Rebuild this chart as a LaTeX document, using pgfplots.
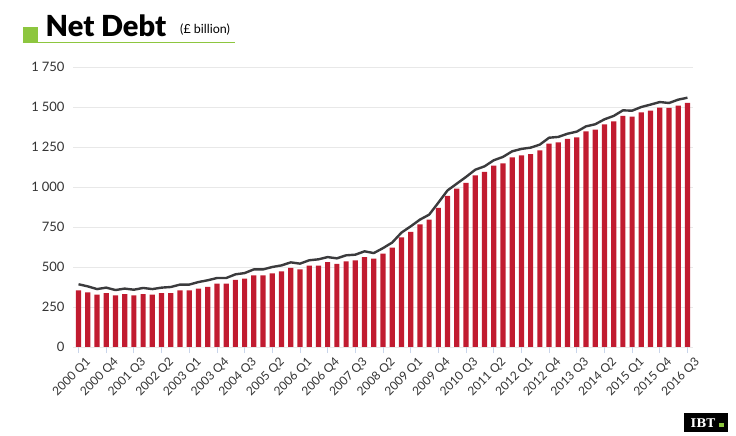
\documentclass[border=0pt]{standalone}
\usepackage{pgfplots}
\pgfplotsset{compat=1.18}
\usepackage{pgfplotstable}
\usepackage{fontspec}
\setmainfont{Lato}
\newfontfamily\blackfont{Lato Black}
\newfontfamily\logofont{DejaVu Serif}

\definecolor{barred}{HTML}{C11B30}
\definecolor{linegray}{HTML}{3B3B3D}
\definecolor{gridgray}{HTML}{E8E8E8}
\definecolor{tickblue}{HTML}{C9D5EA}
\definecolor{labelgray}{HTML}{333333}
\definecolor{ibtgreen}{HTML}{8DC63F}

% quarter index (0 = 2000 Q1), net debt bars, line series
\pgfplotstableread{
x bar line
0 354 392
1 342 379
2 327 362
3 337 371
4 323 356
5 331 365
6 323 358
7 331 369
8 327 362
9 337 371
10 337 375
11 354 390
12 354 390
13 365 406
14 375 417
15 396 431
16 396 431
17 419 454
18 427 462
19 448 485
20 448 485
21 460 500
22 473 510
23 494 529
24 485 521
25 508 542
26 508 548
27 531 562
28 519 554
29 535 573
30 542 577
31 562 598
32 552 587
33 583 618
34 621 653
35 685 715
36 719 754
37 767 796
38 796 827
39 869 902
40 944 979
41 990 1021
42 1025 1063
43 1073 1108
44 1094 1129
45 1133 1167
46 1148 1188
47 1185 1223
48 1198 1238
49 1206 1246
50 1229 1265
51 1271 1308
52 1279 1313
53 1300 1333
54 1310 1346
55 1348 1379
56 1358 1392
57 1392 1423
58 1410 1444
59 1444 1479
60 1440 1477
61 1467 1500
62 1477 1515
63 1496 1531
64 1494 1525
65 1508 1546
66 1525 1558
}\debt

\begin{document}
\begin{tikzpicture}[x=1pt,y=1pt]
\useasboundingbox (0,0) rectangle (736,436);

% title block
\fill[ibtgreen] (22.7,393) rectangle (38.3,409);
\draw[ibtgreen, line width=1.4pt] (22.7,393.7) -- (235,393.7);
\node[anchor=base west, inner sep=0] at (45.5,399.3) {\blackfont\fontsize{29}{29}\selectfont Net Debt};
\node[anchor=base west, inner sep=0] at (180,402) {\fontsize{12.5}{12.5}\selectfont (£ billion)};

\begin{axis}[
  at={(73pt,89pt)}, anchor=south west,
  scale only axis, width=620pt, height=280pt,
  xmin=-0.6, xmax=66.6, ymin=0, ymax=1750,
  axis line style={draw=none},
  ytick={0,250,...,1750},
  ymajorgrids, grid style={draw=gridgray, line width=0.8pt},
  xtick={0,3,...,66}, xtick pos=bottom,
  xticklabels={2000 Q1,2000 Q4,2001 Q3,2002 Q2,2003 Q1,2003 Q4,2004 Q3,2005 Q2,2006 Q1,2006 Q4,2007 Q3,2008 Q2,2009 Q1,2009 Q4,2010 Q3,2011 Q2,2012 Q1,2012 Q4,2013 Q3,2014 Q2,2015 Q1,2015 Q4,2016 Q3},
  tick align=outside, major tick length=6pt,
  xtick style={draw=tickblue, line width=0.8pt},
  ytick style={draw=none},
  x tick label style={rotate=45, anchor=north east, font=\fontsize{12}{12}\selectfont, text=labelgray, inner sep=0pt, xshift=2pt, yshift=-7pt},
  y tick label style={font=\fontsize{13}{13}\selectfont, text=labelgray, xshift=1pt},
  /pgf/number format/.cd, 1000 sep={\hspace{0.22em}}, assume math mode=true,
]
\draw[tickblue, line width=0.8pt] (axis cs:-0.6,0) -- (axis cs:66.6,0);
\addplot[ybar, bar width=5.2pt, fill=barred, draw=none] table[x=x, y=bar]{\debt};
\addplot[line width=2.4pt, color=linegray, mark=none, line join=round] table[x=x, y=line]{\debt};
\end{axis}

% logo
\fill[black] (684,4) rectangle (728,23);
\node[text=white, inner sep=0, anchor=base] at (703,8.5)
  {\logofont\bfseries\fontsize{12}{12}\selectfont IBT};
\fill[ibtgreen] (719,8.5) rectangle (723.5,13);
\end{tikzpicture}
\end{document}
